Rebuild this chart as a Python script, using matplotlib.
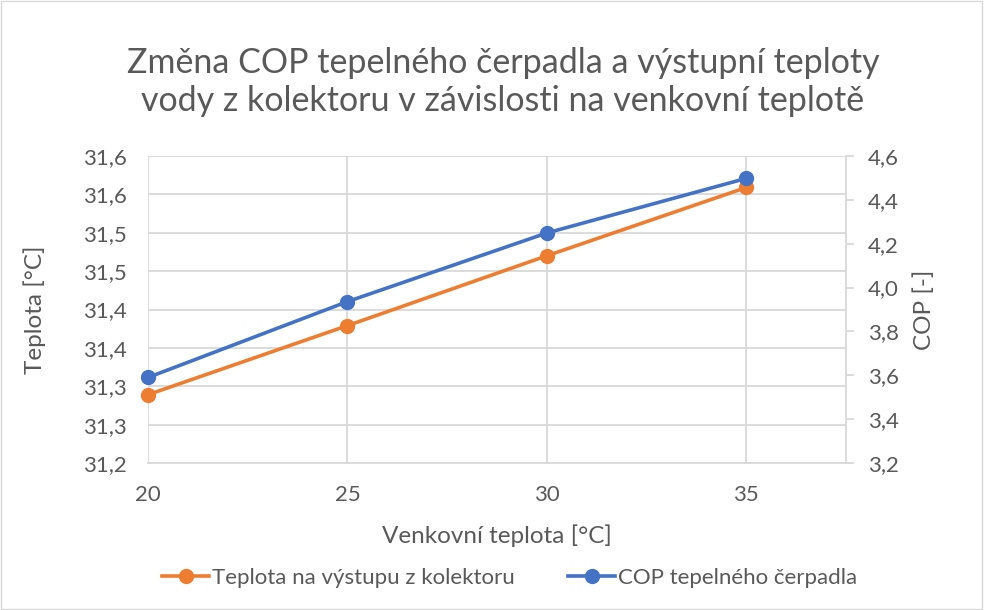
import matplotlib
matplotlib.use("Agg")
import matplotlib.pyplot as plt
from matplotlib.ticker import FixedLocator, FuncFormatter
from matplotlib.patches import Rectangle
from decimal import Decimal, ROUND_HALF_UP

x_temp = [20, 25, 30, 35]
teplota_vystup = [31.289, 31.379, 31.470, 31.559]
cop = [3.59, 3.936, 4.249, 4.498]
left_ticks = [31.2, 31.25, 31.3, 31.35, 31.4, 31.45, 31.5, 31.55, 31.6]
right_ticks = [3.2, 3.4, 3.6, 3.8, 4.0, 4.2, 4.4, 4.6]
x_ticks = [20, 25, 30, 35]

plt.rcParams['font.family'] = ['Lato', 'DejaVu Sans']
txt = '#595959'
grid = '#D9D9D9'
orange = '#ED7D31'
blue = '#4472C4'

fig = plt.figure(figsize=(9.84, 6.10), dpi=100)
fig.patches.append(Rectangle((0.001, 0.001), 0.997, 0.997, transform=fig.transFigure,
                             fill=False, edgecolor='#D9D9D9', linewidth=1))
ax = fig.add_axes([148/984, 1-463/610, (846-148)/984, (463-156)/610])
ax2 = ax.twinx()

def fmt(v, pos):
    d = Decimal(str(round(v, 6))).quantize(Decimal('0.1'), rounding=ROUND_HALF_UP)
    return str(d).replace('.', ',')

ax.plot(x_temp, teplota_vystup, color=orange, lw=2.6, marker='o', ms=10,
        label='Teplota na výstupu z kolektoru', zorder=3, clip_on=False)
ax2.plot(x_temp, cop, color=blue, lw=2.6, marker='o', ms=10,
         label='COP tepelného čerpadla', zorder=3, clip_on=False)

ax.set_xlim(20, 37.5)
ax.set_ylim(31.2, 31.6)
ax2.set_ylim(3.2, 4.6)
ax.xaxis.set_major_locator(FixedLocator(x_ticks))
ax.yaxis.set_major_locator(FixedLocator(left_ticks))
ax2.yaxis.set_major_locator(FixedLocator(right_ticks))
ax.yaxis.set_major_formatter(FuncFormatter(fmt))
ax2.yaxis.set_major_formatter(FuncFormatter(fmt))

ax.grid(True, color=grid, lw=1.3)
ax.set_axisbelow(True)
for a in (ax, ax2):
    for s in a.spines.values():
        s.set_visible(False)
ax.spines['bottom'].set_visible(True)
ax.spines['bottom'].set_color(grid)
ax.spines['bottom'].set_linewidth(1.3)
ax2.spines['right'].set_visible(True)
ax2.spines['right'].set_color(grid)
ax2.spines['right'].set_linewidth(1.3)

fs_tick = 16
ax.tick_params(axis='both', length=0, labelsize=fs_tick, labelcolor=txt)
ax.tick_params(axis='y', pad=15)
ax.tick_params(axis='x', pad=16)
ax2.tick_params(axis='y', length=6, width=1.3, color=grid, labelsize=fs_tick,
                labelcolor=txt, pad=10)

ax.set_xlabel('Venkovní teplota [°C]', fontsize=17.5, color=txt, labelpad=14)
ax.set_ylabel('Teplota [°C]', fontsize=17.5, color=txt, labelpad=27)
ax2.set_ylabel('COP [-]', fontsize=17.5, color=txt, labelpad=10)

fig.text(503/984, 1-82/610, 'Změna COP tepelného čerpadla a výstupní teploty\nvody z kolektoru v závislosti na venkovní teplotě',
         ha='center', va='center', fontsize=24.5, color=txt, linespacing=1.22)

h1, l1 = ax.get_legend_handles_labels()
h2, l2 = ax2.get_legend_handles_labels()
fig.legend(h1 + h2, l1 + l2, loc='center', bbox_to_anchor=(510/984, 1-578/610),
           ncol=2, frameon=False, fontsize=16, labelcolor=txt,
           handlelength=2.1, handletextpad=0.15, columnspacing=2.4)

fig.savefig('out.png', dpi=100)
